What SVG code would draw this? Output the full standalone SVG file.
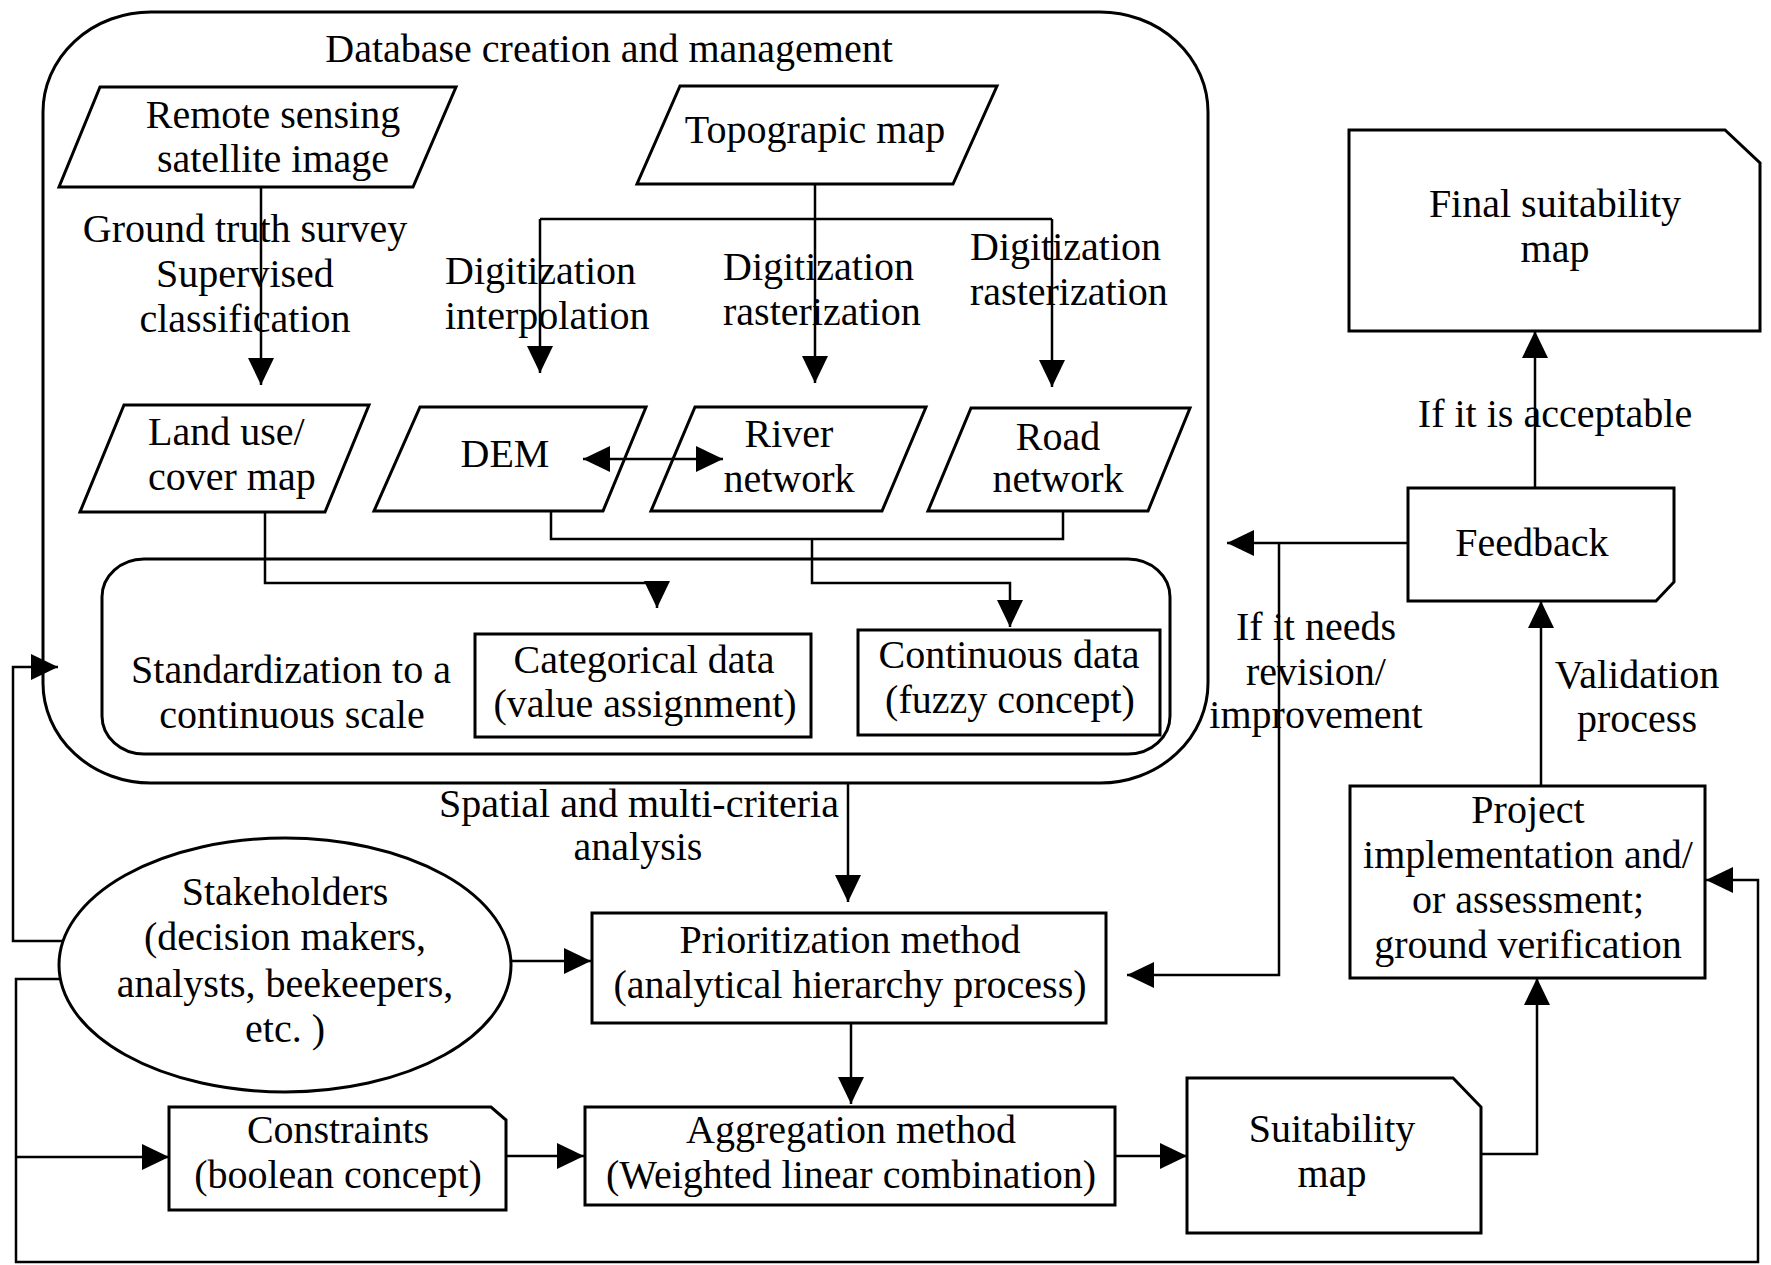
<svg xmlns="http://www.w3.org/2000/svg" width="1771" height="1265" viewBox="0 0 1771 1265">
<style>
.shape{fill:#fff;stroke:#000;stroke-width:3}
.cont{fill:none;stroke:#000;stroke-width:3}
.line{fill:none;stroke:#000;stroke-width:2.5}
.arr{marker-end:url(#ah)}
text{font-family:"Liberation Serif","Times New Roman",serif;font-size:40px;fill:#000;text-anchor:middle}
.st{text-anchor:start}
</style>
<defs>
<marker id="ah" markerUnits="userSpaceOnUse" markerWidth="28" markerHeight="26" refX="27" refY="13" orient="auto-start-reverse">
<path d="M0,0 L27,13 L0,26 Z" fill="#000"/>
</marker>
</defs>
<rect width="1771" height="1265" fill="#fff"/>

<g id="db-container">
<rect class="cont" x="43" y="12" width="1165" height="771" rx="108" ry="100"/>
<text x="609" y="62">Database creation and management</text>
</g>
<g id="std-container">
<rect class="cont" x="102" y="559" width="1068" height="195" rx="42" ry="38"/>
<text x="291" y="683">Standardization to a</text>
<text x="292" y="728">continuous scale</text>
</g>

<g id="remote">
<polygon class="shape" points="100,87 456,87 413,187 59,187"/>
<text x="273" y="128">Remote sensing</text>
<text x="273" y="172">satellite image</text>
</g>
<g id="topo">
<polygon class="shape" points="680,86 997,86 953,184 637,184"/>
<text x="815" y="143">Topograpic map</text>
</g>
<g id="landuse">
<polygon class="shape" points="124,405 369,405 325,512 80,512"/>
<text class="st" x="148" y="445">Land use/</text>
<text class="st" x="148" y="490">cover map</text>
</g>
<g id="dem">
<polygon class="shape" points="420,407 646,407 603,511 374,511"/>
<text x="505" y="467">DEM</text>
</g>
<g id="river">
<polygon class="shape" points="695,407 926,407 882,511 651,511"/>
<text x="789" y="447">River</text>
<text x="789" y="492">network</text>
</g>
<g id="road">
<polygon class="shape" points="971,408 1190,408 1148,511 928,511"/>
<text x="1058" y="450">Road</text>
<text x="1058" y="492">network</text>
</g>
<g id="categorical">
<rect class="shape" x="475" y="634" width="336" height="103"/>
<text x="644" y="673">Categorical data</text>
<text x="645" y="717">(value assignment)</text>
</g>
<g id="continuous">
<rect class="shape" x="858" y="630" width="302" height="105"/>
<text x="1009" y="668">Continuous data</text>
<text x="1010" y="713">(fuzzy concept)</text>
</g>
<g id="stakeholders">
<ellipse class="shape" cx="285" cy="965" rx="226" ry="127"/>
<text x="285" y="905">Stakeholders</text>
<text x="285" y="950">(decision makers,</text>
<text x="285" y="997">analysts, beekeepers,</text>
<text x="285" y="1042">etc. )</text>
</g>
<g id="prioritization">
<rect class="shape" x="592" y="913" width="514" height="110"/>
<text x="850" y="953">Prioritization method</text>
<text x="850" y="998">(analytical hierarchy process)</text>
</g>
<g id="constraints">
<path class="shape" d="M169,1107 H491 L506,1120 V1210 H169 Z"/>
<text x="338" y="1143">Constraints</text>
<text x="338" y="1188">(boolean concept)</text>
</g>
<g id="aggregation">
<rect class="shape" x="585" y="1107" width="530" height="98"/>
<text x="851" y="1143">Aggregation method</text>
<text x="851" y="1188">(Weighted linear combination)</text>
</g>
<g id="suitability">
<path class="shape" d="M1187,1078 H1453 L1481,1107 V1233 H1187 Z"/>
<text x="1332" y="1142">Suitability</text>
<text x="1332" y="1187">map</text>
</g>
<g id="project">
<rect class="shape" x="1350" y="786" width="355" height="192"/>
<text x="1528" y="823">Project</text>
<text x="1528" y="868">implementation and/</text>
<text x="1528" y="913">or assessment;</text>
<text x="1528" y="958">ground verification</text>
</g>
<g id="feedback">
<path class="shape" d="M1408,488 H1674 V582 L1656,601 H1408 Z"/>
<text x="1532" y="556">Feedback</text>
</g>
<g id="final">
<path class="shape" d="M1349,130 H1725 L1760,163 V331 H1349 Z"/>
<text x="1555" y="217">Final suitability</text>
<text x="1555" y="262">map</text>
</g>

<g id="connectors">
<path class="line arr" d="M261,187 V385"/>
<path class="line arr" d="M815,184 V383"/>
<path class="line" d="M540,219 H1052"/>
<path class="line arr" d="M540,219 V373"/>
<path class="line arr" d="M1052,219 V387"/>
<path class="line arr" d="M583,459 H723" marker-start="url(#ah)"/>
<path class="line arr" d="M265,512 V583 H657 V608"/>
<path class="line" d="M551,511 V539 H1063 V511"/>
<path class="line arr" d="M812,539 V583 H1010 V627"/>
<path class="line arr" d="M848,783 V902"/>
<path class="line arr" d="M511,961 H591"/>
<path class="line arr" d="M851,1023 V1104"/>
<path class="line arr" d="M63,941 H13 V667 H58"/>
<path class="line arr" d="M60,979 H16 V1262 H1758 V880 H1706"/>
<path class="line arr" d="M16,1157 H169"/>
<path class="line arr" d="M506,1156 H584"/>
<path class="line arr" d="M1115,1156 H1187"/>
<path class="line arr" d="M1481,1154 H1537 V978"/>
<path class="line arr" d="M1541,786 V601"/>
<path class="line arr" d="M1535,488 V331"/>
<path class="line arr" d="M1408,543 H1227"/>
<path class="line arr" d="M1279,543 V975 H1127"/>
</g>

<g id="labels">
<text x="245" y="242">Ground truth survey</text>
<text x="245" y="287">Supervised</text>
<text x="245" y="332">classification</text>
<text class="st" x="445" y="284">Digitization</text>
<text class="st" x="445" y="329">interpolation</text>
<text class="st" x="723" y="280">Digitization</text>
<text class="st" x="723" y="325">rasterization</text>
<text class="st" x="970" y="260">Digitization</text>
<text class="st" x="970" y="305">rasterization</text>
<text x="639" y="817">Spatial and multi-criteria</text>
<text x="638" y="860">analysis</text>
<text x="1316" y="640">If it needs</text>
<text x="1316" y="685">revision/</text>
<text x="1316" y="728">improvement</text>
<text x="1637" y="688">Validation</text>
<text x="1637" y="732">process</text>
<text x="1555" y="427">If it is acceptable</text>
</g>
</svg>
